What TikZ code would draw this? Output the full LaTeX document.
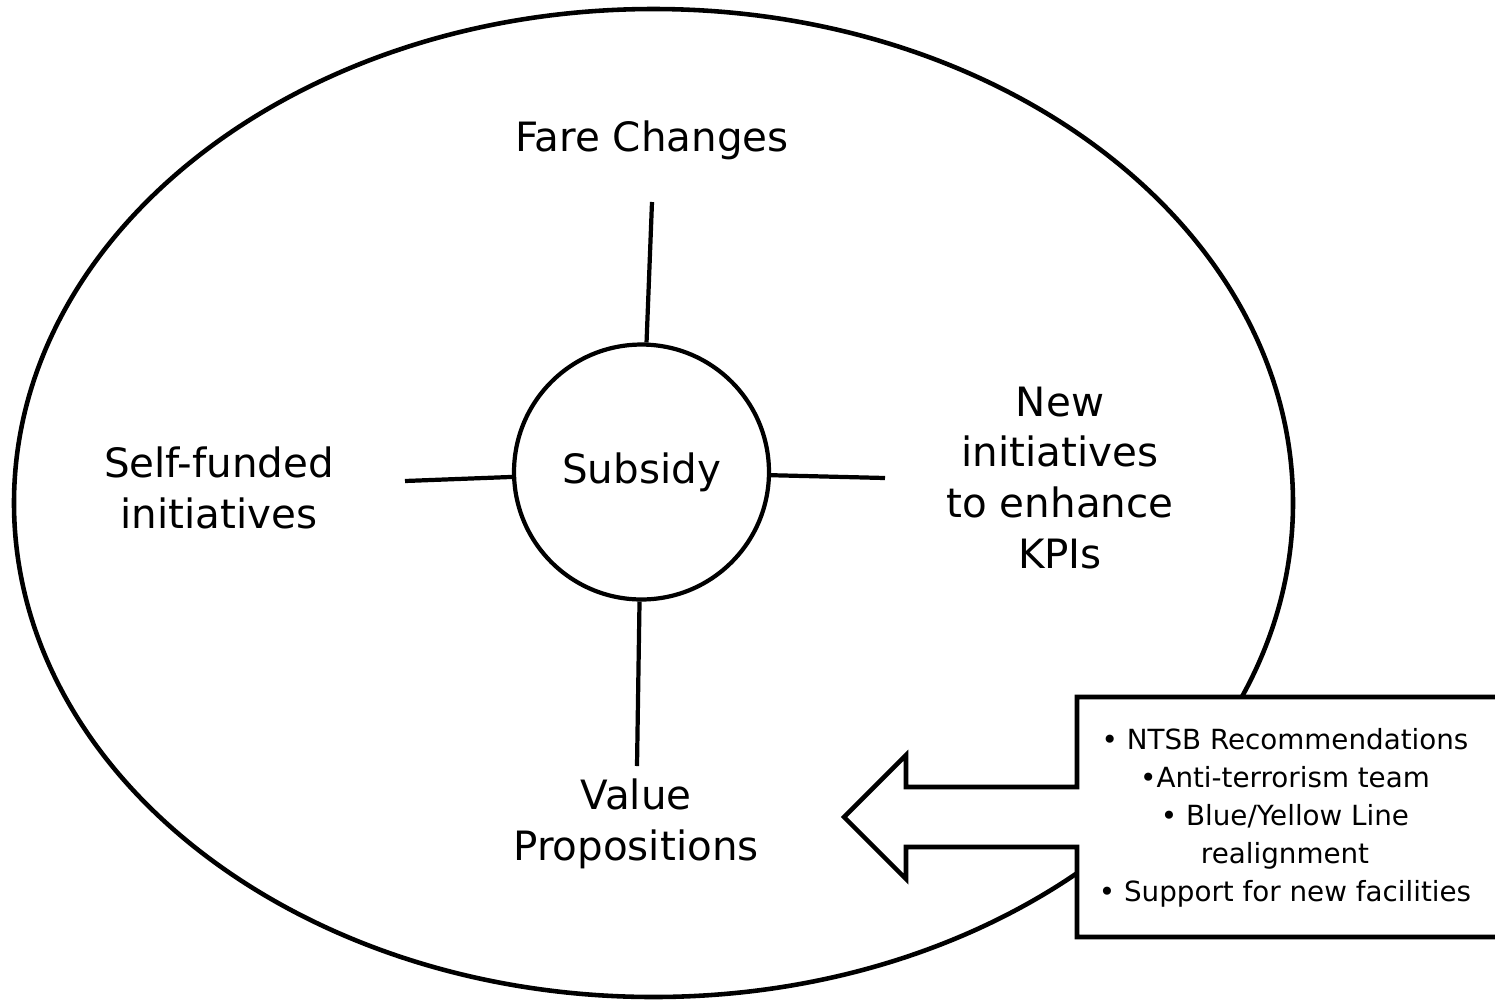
\documentclass[tikz,border=0pt]{standalone}
\usepackage{fontspec}
\setmainfont{DejaVu Sans}

\begin{document}
\begin{tikzpicture}[
    x=0.02cm, y=-0.02cm,
    every node/.style={font=\fontsize{23}{29}\selectfont},
    outline/.style={draw=black, line width=2.6pt},
    spoke/.style={draw=black, line width=2.4pt},
    hub/.style={circle, draw=black, line width=2.4pt, inner sep=0pt, minimum size=5.1cm},
    topic/.style={align=center},
    note/.style={align=center, font=\fontsize{15.8}{21.7}\selectfont},
]

% Page area
\useasboundingbox (0,0) rectangle (1495,1002);

% === Outer ellipse ===
\draw[outline] (653.5,503) ellipse [x radius=639.5, y radius=494];

% === Centre and the four topics ===
\node[hub] (hub) at (641.5,472) {Subsidy};

\node[topic] (fare)  at (652,140)  {Fare Changes};
\node[topic] (self)  at (219,488)  {Self-funded\\initiatives};
\node[topic] (kpi)   at (1060,478) {New\\initiatives\\to enhance\\KPIs};
\node[topic] (value) at (636,824)  {Value\\Propositions};

% Free ends of the spokes
\coordinate (fareEnd)  at (652,202);
\coordinate (selfEnd)  at (405,481);
\coordinate (kpiEnd)   at (885,478);
\coordinate (valueEnd) at (637,766);

\draw[spoke] (hub) -- (fareEnd);
\draw[spoke] (hub) -- (selfEnd);
\draw[spoke] (hub) -- (kpiEnd);
\draw[spoke] (hub) -- (valueEnd);

% === Call-out box with its block arrow (right edge runs off the page) ===
\filldraw[outline, fill=white]
    (1077,697) -- (1500,697) -- (1500,937) -- (1077,937) -- (1077,847)
    -- (906,847) -- (906,879) -- (844,817) -- (906,755) -- (906,787)
    -- (1077,787) -- cycle;

\node[note] (list) at (1285,818) {%
    • NTSB Recommendations\\
    •Anti-terrorism team\\
    • Blue/Yellow Line\\
    realignment\\
    • Support for new facilities};

\end{tikzpicture}
\end{document}
